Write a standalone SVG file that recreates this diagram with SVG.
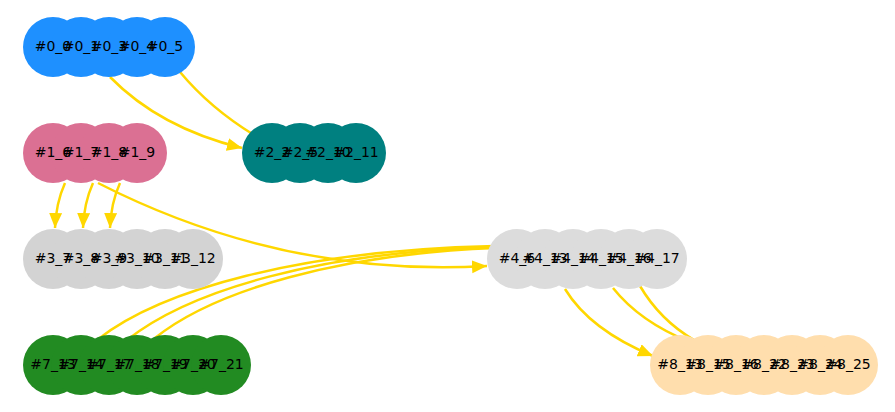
<svg xmlns="http://www.w3.org/2000/svg" width="895" height="412" viewBox="0 0 895 412">
<style>
.e{fill:none;stroke:#FFD700;stroke-width:2.5}
.t{font-family:"DejaVu Sans",sans-serif;font-size:14px;fill:#000;text-anchor:middle}
.g0{fill:#1E90FF}.g1{fill:#DB7093}.g2{fill:#008080}.g3{fill:#D3D3D3}.g4{fill:#DCDCDC}.g7{fill:#228B22}.g8{fill:#FFDEAD}
</style>
<defs>
<marker id="arr" markerUnits="userSpaceOnUse" markerWidth="16" markerHeight="14" refX="15" refY="6.5" orient="auto"><path d="M0,0 L15,6.5 L0,13 z" fill="#FFD700"/></marker>
</defs>
<rect width="895" height="412" fill="#fff"/>
<g id="edges">
<path class="e" d="M110,77 Q160,128 242,148" marker-end="url(#arr)"/>
<path class="e" d="M180,72 Q210,108 254,135"/>
<path class="e" d="M65,183 Q56,203 55,228" marker-end="url(#arr)"/>
<path class="e" d="M93,183 Q84,203 83,228" marker-end="url(#arr)"/>
<path class="e" d="M120,183 Q111,203 110,228" marker-end="url(#arr)"/>
<path class="e" d="M98,183 C200,235 330,275 487,266" marker-end="url(#arr)"/>
<path class="e" d="M97,340 C160,290 300,250 495,246"/>
<path class="e" d="M127,340 C190,290 320,252 495,247"/>
<path class="e" d="M155,338 C215,290 340,254 495,248"/>
<path class="e" d="M565,289 Q590,330 653,356" marker-end="url(#arr)"/>
<path class="e" d="M613,288 Q640,322 690,342"/>
<path class="e" d="M640,286 Q660,320 694,340"/>
</g>
<g id="nodes">
<g id="node-0_0"><circle class="g0" cx="53" cy="47" r="30"/></g>
<g id="node-0_1"><circle class="g0" cx="81" cy="47" r="30"/></g>
<g id="node-0_3"><circle class="g0" cx="109" cy="47" r="30"/></g>
<g id="node-0_4"><circle class="g0" cx="137" cy="47" r="30"/></g>
<g id="node-0_5"><circle class="g0" cx="165" cy="47" r="30"/></g>
<g id="node-1_6"><circle class="g1" cx="53" cy="153" r="30"/></g>
<g id="node-1_7"><circle class="g1" cx="81" cy="153" r="30"/></g>
<g id="node-1_8"><circle class="g1" cx="109" cy="153" r="30"/></g>
<g id="node-1_9"><circle class="g1" cx="137" cy="153" r="30"/></g>
<g id="node-2_2"><circle class="g2" cx="272" cy="153" r="30"/></g>
<g id="node-2_5"><circle class="g2" cx="300" cy="153" r="30"/></g>
<g id="node-2_10"><circle class="g2" cx="328" cy="153" r="30"/></g>
<g id="node-2_11"><circle class="g2" cx="356" cy="153" r="30"/></g>
<g id="node-3_7"><circle class="g3" cx="53" cy="259" r="30"/></g>
<g id="node-3_8"><circle class="g3" cx="81" cy="259" r="30"/></g>
<g id="node-3_9"><circle class="g3" cx="109" cy="259" r="30"/></g>
<g id="node-3_10"><circle class="g3" cx="137" cy="259" r="30"/></g>
<g id="node-3_11"><circle class="g3" cx="165" cy="259" r="30"/></g>
<g id="node-3_12"><circle class="g3" cx="193" cy="259" r="30"/></g>
<g id="node-4_6"><circle class="g4" cx="517" cy="259" r="30"/></g>
<g id="node-4_13"><circle class="g4" cx="545" cy="259" r="30"/></g>
<g id="node-4_14"><circle class="g4" cx="573" cy="259" r="30"/></g>
<g id="node-4_15"><circle class="g4" cx="601" cy="259" r="30"/></g>
<g id="node-4_16"><circle class="g4" cx="629" cy="259" r="30"/></g>
<g id="node-4_17"><circle class="g4" cx="657" cy="259" r="30"/></g>
<g id="node-7_13"><circle class="g7" cx="53" cy="365" r="30"/></g>
<g id="node-7_14"><circle class="g7" cx="81" cy="365" r="30"/></g>
<g id="node-7_17"><circle class="g7" cx="109" cy="365" r="30"/></g>
<g id="node-7_18"><circle class="g7" cx="137" cy="365" r="30"/></g>
<g id="node-7_19"><circle class="g7" cx="165" cy="365" r="30"/></g>
<g id="node-7_20"><circle class="g7" cx="193" cy="365" r="30"/></g>
<g id="node-7_21"><circle class="g7" cx="221" cy="365" r="30"/></g>
<g id="node-8_13"><circle class="g8" cx="680" cy="365" r="30"/></g>
<g id="node-8_15"><circle class="g8" cx="708" cy="365" r="30"/></g>
<g id="node-8_16"><circle class="g8" cx="736" cy="365" r="30"/></g>
<g id="node-8_22"><circle class="g8" cx="764" cy="365" r="30"/></g>
<g id="node-8_23"><circle class="g8" cx="792" cy="365" r="30"/></g>
<g id="node-8_24"><circle class="g8" cx="820" cy="365" r="30"/></g>
<g id="node-8_25"><circle class="g8" cx="848" cy="365" r="30"/></g>
</g>
<g id="labels" class="t">
<text x="53" y="51">#0_0</text><text x="81" y="51">#0_1</text><text x="109" y="51">#0_3</text><text x="137" y="51">#0_4</text><text x="165" y="51">#0_5</text>
<text x="53" y="157">#1_6</text><text x="81" y="157">#1_7</text><text x="109" y="157">#1_8</text><text x="137" y="157">#1_9</text>
<text x="272" y="157">#2_2</text><text x="300" y="157">#2_5</text><text x="328" y="157">#2_10</text><text x="356" y="157">#2_11</text>
<text x="53" y="263">#3_7</text><text x="81" y="263">#3_8</text><text x="109" y="263">#3_9</text><text x="137" y="263">#3_10</text><text x="165" y="263">#3_11</text><text x="193" y="263">#3_12</text>
<text x="517" y="263">#4_6</text><text x="545" y="263">#4_13</text><text x="573" y="263">#4_14</text><text x="601" y="263">#4_15</text><text x="629" y="263">#4_16</text><text x="657" y="263">#4_17</text>
<text x="53" y="369">#7_13</text><text x="81" y="369">#7_14</text><text x="109" y="369">#7_17</text><text x="137" y="369">#7_18</text><text x="165" y="369">#7_19</text><text x="193" y="369">#7_20</text><text x="221" y="369">#7_21</text>
<text x="680" y="369">#8_13</text><text x="708" y="369">#8_15</text><text x="736" y="369">#8_16</text><text x="764" y="369">#8_22</text><text x="792" y="369">#8_23</text><text x="820" y="369">#8_24</text><text x="848" y="369">#8_25</text>
</g>
</svg>
